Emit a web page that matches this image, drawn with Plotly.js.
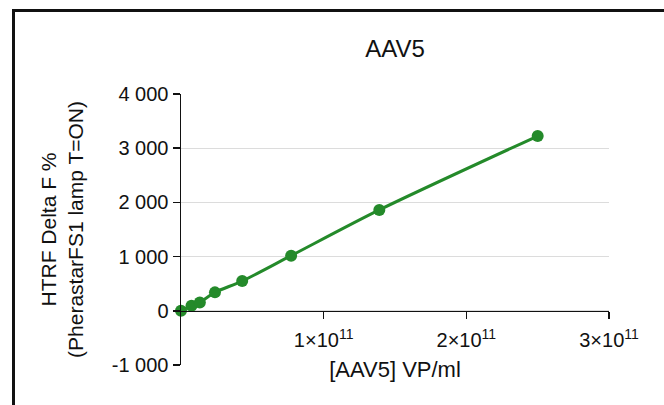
<!DOCTYPE html>
<html>
<head>
<meta charset="utf-8">
<script src="https://cdn.plot.ly/plotly-3.0.1.min.js"></script>
<style>
  html, body { margin: 0; padding: 0; background: #fff; }
  #wrap { position: relative; width: 664px; height: 405px; overflow: hidden; }
  #chart { position: absolute; left: 0; top: 0; width: 664px; height: 405px; }
  #frame { position: absolute; left: 12px; top: 9px; width: 700px; height: 450px;
           border-left: 3px solid #111; border-top: 3px solid #111; pointer-events: none; }
</style>
</head>
<body>
<div id="wrap">
  <div id="chart"></div>
  <div id="frame"></div>
</div>
<script>
// Data
const concentrationVPml = [0, 7.35e9, 1.32e10, 2.38e10, 4.29e10, 7.72e10, 1.39e11, 2.5e11];
const deltaFPercent     = [0, 92, 155, 340, 549, 1017, 1861, 3224];

const yTickVals  = [-1000, 0, 1000, 2000, 3000, 4000];
const yTickText  = ['-1 000', '0', '1 000', '2 000', '3 000', '4 000'];
const xTickVals  = [1e11, 2e11, 3e11];
const xTickText  = ['1×10<sup>11</sup>', '2×10<sup>11</sup>', '3×10<sup>11</sup>'];

const chartTitle = 'AAV5';
const xTitle = '[AAV5] VP/ml';
const yTitle = 'HTRF Delta F %<br>(PherastarFS1 lamp T=ON)';

const green = '#248a2a';
const fontFamily = '"Liberation Sans", Arial, Helvetica, sans-serif';

const yMin = -1000, yMax = 4000;

const trace = {
  x: concentrationVPml,
  y: deltaFPercent,
  type: 'scatter',
  mode: 'lines+markers',
  line: { color: green, width: 3, shape: 'spline', smoothing: 0.8 },
  marker: { color: green, size: 12 },
  cliponaxis: false,
  hoverinfo: 'x+y'
};

const layout = {
  width: 664,
  height: 405,
  margin: { l: 181, r: 55, t: 94, b: 40 },
  paper_bgcolor: 'rgba(0,0,0,0)',
  plot_bgcolor: 'rgba(0,0,0,0)',
  font: { family: fontFamily, color: '#111', size: 20 },
  showlegend: false,
  title: {
    text: chartTitle,
    font: { family: fontFamily, size: 24, color: '#111' },
    x: 0.5, xref: 'paper', xanchor: 'center',
    y: 1 - 49 / 405, yref: 'container', yanchor: 'middle'
  },
  xaxis: {
    range: [0, 3e11],
    anchor: 'free',
    position: (0 - yMin) / (yMax - yMin),
    tickvals: xTickVals,
    ticktext: xTickText,
    ticks: 'outside',
    ticklen: 7,
    tickwidth: 1.5,
    tickcolor: '#111',
    ticklabelstandoff: 4,
    showline: true,
    linecolor: '#111',
    linewidth: 1.5,
    showgrid: false,
    zeroline: false,
    tickfont: { family: fontFamily, size: 20, color: '#111' },
    title: { text: xTitle, font: { family: fontFamily, size: 22, color: '#111' }, standoff: 11 }
  },
  yaxis: {
    range: [yMin, yMax],
    tickvals: yTickVals,
    ticktext: yTickText,
    ticks: 'outside',
    ticklen: 7,
    tickwidth: 1.5,
    tickcolor: '#111',
    showline: true,
    linecolor: '#111',
    linewidth: 1.5,
    showgrid: true,
    gridcolor: '#dcdcdc',
    gridwidth: 1,
    zeroline: false,
    tickfont: { family: fontFamily, size: 20, color: '#111' },
    title: { text: yTitle, font: { family: fontFamily, size: 21, color: '#111' }, standoff: 22 }
  }
};

Plotly.newPlot('chart', [trace], layout, { displayModeBar: false, staticPlot: true });
</script>
</body>
</html>
